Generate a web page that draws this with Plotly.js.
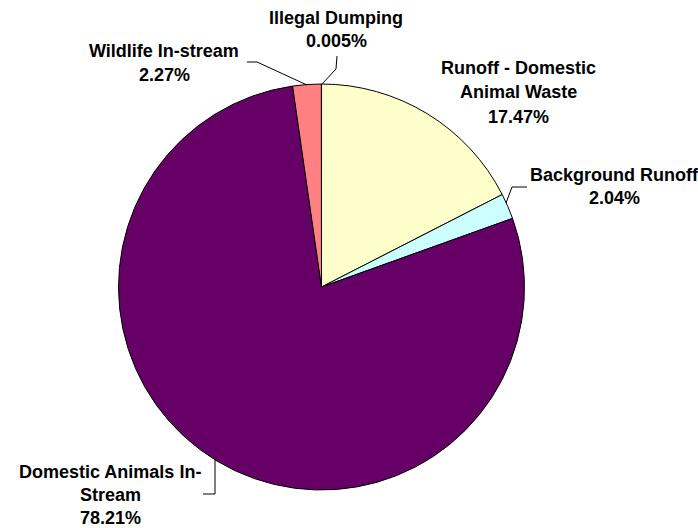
<!DOCTYPE html>
<html>
<head>
<meta charset="utf-8">
<script src="https://cdn.plot.ly/plotly-3.0.1.min.js"></script>
<style>html,body{margin:0;padding:0;background:#fff;overflow:hidden;}#chart{width:698px;height:528px;}</style>
</head>
<body>
<div id="chart"></div>
<script>
// Data
var categories = ["Runoff - Domestic Animal Waste", "Background Runoff", "Domestic Animals In-Stream", "Wildlife In-stream", "Illegal Dumping"];
var values = [17.47, 2.04, 78.21, 2.27, 0.005];
var valueLabels = ["17.47%", "2.04%", "78.21%", "2.27%", "0.005%"];
var labelLines = [
  ["Runoff - Domestic", "Animal Waste"],
  ["Background Runoff"],
  ["Domestic Animals In-", "Stream"],
  ["Wildlife In-stream"],
  ["Illegal Dumping"]
];
var colors = ["#FFFFCC", "#CCFFFF", "#660066", "#FF8080", "#3366CC"];

var W = 698, H = 528;
function fx(x){ return x / W; }
function fy(y){ return 1 - y / H; }

// label placement (pixel centers of first line) and leader paths
var labelPos = [[518, 68], [614, 175], [110, 472], [164, 51], [336, 18]];
var lineGaps = [24.5, 22.5, 23, 24, 23];
var leaders = [
  null,
  [[506, 203], [512, 187], [527, 187]],
  [[215, 460], [215, 494], [203, 494]],
  [[307, 85], [257, 62], [247, 62]],
  [[322, 84], [336, 69], [337, 56]]
];

var font = {family: "Liberation Sans, Arial, sans-serif", size: 18, color: "#000"};
var annotations = [];
var shapes = [];
categories.forEach(function(c, i){
  var lines = labelLines[i].concat([valueLabels[i]]);
  lines.forEach(function(t, j){
    annotations.push({
      xref: "paper", yref: "paper",
      x: fx(labelPos[i][0]), y: fy(labelPos[i][1] + j * lineGaps[i]),
      xanchor: "center", yanchor: "middle",
      text: "<b>" + t + "</b>", showarrow: false, font: font
    });
  });
  if (leaders[i]) {
    var p = leaders[i].map(function(pt, k){ return (k ? "L" : "M") + fx(pt[0]) + "," + fy(pt[1]); }).join(" ");
    shapes.push({type: "path", xref: "paper", yref: "paper", path: p, line: {color: "#000", width: 1}});
  }
});

var trace = {
  type: "pie",
  labels: categories,
  values: values,
  sort: false,
  direction: "clockwise",
  rotation: 0,
  textinfo: "none",
  hoverinfo: "label+percent",
  marker: {colors: colors, line: {color: "#000", width: 1}},
  domain: {x: [fx(321.5 - 203), fx(321.5 + 203)], y: [fy(490), fy(84)]}
};

var layout = {
  width: W, height: H,
  margin: {l: 0, r: 0, t: 0, b: 0},
  showlegend: false,
  paper_bgcolor: "#fff",
  annotations: annotations,
  shapes: shapes
};

Plotly.newPlot("chart", [trace], layout, {displayModeBar: false, staticPlot: true});
</script>
</body>
</html>
